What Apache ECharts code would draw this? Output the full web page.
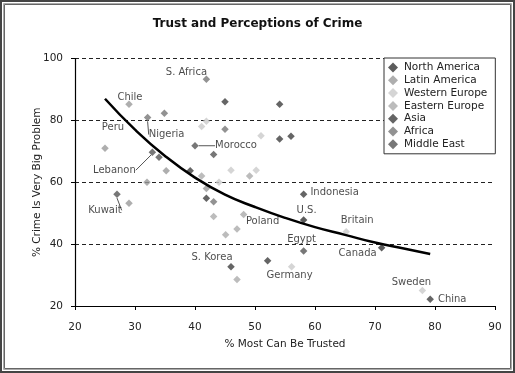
<!DOCTYPE html>
<html><head><meta charset="utf-8">
<script src="https://cdn.jsdelivr.net/npm/echarts@6/dist/echarts.min.js"></script>
<style>html,body{margin:0;padding:0;background:#fff}#c{width:515px;height:373px}</style>
</head><body><div id="c"></div>
<script>
// ---- data (x = % most can be trusted, y = % crime is very big problem, name = label) ----
const northAmerica = [[58.1,47.8,'U.S.'],[71.1,38.8,'Canada']];
const latinAmerica = [[29,85.2,'Chile'],[25,71,'Peru'],[35.2,63.7,''],[32,60,''],[29,53.2,''],[41.9,58,'']];
const westernEurope = [[41.9,79.7,''],[41.1,78,''],[51,75,''],[46,63.9,''],[50.2,63.9,''],[44,60,''],[65.2,44,'Britain'],[56.1,32.7,'Germany'],[77.9,25,'Sweden']];
const easternEurope = [[48.1,49.6,'Poland'],[43.1,48.9,''],[45.1,43,''],[47,44.9,''],[47,28.6,''],[41.1,62,''],[49.1,62,'']];
const asia = [[58.1,56.1,'Indonesia'],[46,32.7,'S. Korea'],[79.2,22.2,'China'],[45,86,''],[54.1,85.2,''],[54.1,74,''],[56,74.9,''],[39.2,63.7,''],[41.9,54.8,''],[52.1,34.6,'']];
const africa = [[41.9,93.3,'S. Africa'],[32.1,80.9,'Nigeria'],[45,77.1,''],[43.1,53.7,''],[34.9,82.3,'']];
const middleEast = [[40,71.8,'Morocco'],[32.9,69.7,'Lebanon'],[34,68.1,''],[43.1,69,''],[27,56.1,'Kuwait'],[58.1,37.8,'Egypt']];
// trend line
const trendX = [25,30,35,40,45,50,55,60,65,70,75,79.2];
const trendY = [87,77,68.5,61.5,56,52,48.5,45.5,43,40.5,38.5,36.8];
const regions = ['North America','Latin America','Western Europe','Eastern Europe','Asia','Africa','Middle East'];
const regionData = [northAmerica,latinAmerica,westernEurope,easternEurope,asia,africa,middleEast];

// ---- styling ----
const colors = ['#333333','#9a9a9a','#cacaca','#ababab','#3f3f3f','#777777','#555555'];
// label offsets in pixels from the point: [dx, dy, leaderLine]
const labelPlace = {
  'S. Africa':[-20,-7,false],'Chile':[1,-7,false],'Peru':[8,-21,false],'Nigeria':[19,17,true],
  'Morocco':[41,0,true],'Lebanon':[-38,18,true],'Kuwait':[-12,16,true],'Indonesia':[31,-2,false],
  'U.S.':[3,-10,false],'Poland':[19,7,false],'Britain':[11,-11,false],'Egypt':[-2,-12,false],
  'Canada':[-24,6,false],'S. Korea':[-19,-9,false],'Germany':[-2,9,false],'Sweden':[-11,-8,false],
  'China':[22,0,false]
};
const FONT = 'DejaVu Sans';
const series = regions.map((r,i)=>({
  name:r, type:'scatter', symbol:'diamond', symbolSize:7.5, z:3,
  itemStyle:{color:colors[i]},
  data: regionData[i].map(d=>{
    const item = {value:[d[0],d[1]], name:d[2]};
    if(d[2]){
      const p = labelPlace[d[2]];
      item.label = {show:true, formatter:'{b}', position:'inside', color:'#1a1a1a', fontFamily:FONT, fontSize:10};
      item.labelLine = {show:p[2], length2:0, smooth:false, lineStyle:{color:'#555', width:1}};
    }
    return item;
  }),
  labelLayout: function(params){
    const p = labelPlace[params.text];
    if(!p) return {};
    return {dx:p[0], dy:p[1]};
  }
}));
series.push({
  type:'line', smooth:true, showSymbol:false, silent:true, z:4,
  lineStyle:{color:'#000', width:2.5},
  data: trendX.map((x,i)=>[x,trendY[i]])
});

const chart = echarts.init(document.getElementById('c'), null, {renderer:'canvas'});
chart.setOption({
  animation:false,
  backgroundColor:'#fff',
  title:{text:'Trust and Perceptions of Crime', left:'center', top:13,
    textStyle:{fontFamily:FONT, fontSize:12, fontWeight:'bold', color:'#111'}},
  grid:{left:75, right:20, top:58.5, bottom:67},
  legend:{orient:'vertical', left:384, top:58, data:regions,
    icon:'diamond', itemWidth:10, itemHeight:10, itemGap:1.8,
    backgroundColor:'#fff', borderColor:'#333', borderWidth:1, padding:[4,8,4,4],
    textStyle:{fontFamily:FONT, fontSize:10.5, color:'#222', padding:[0,0,0,1]}},
  xAxis:{type:'value', min:20, max:90, interval:10,
    name:'% Most Can Be Trusted', nameLocation:'middle', nameGap:33, nameMoveOverlap:false,
    nameTextStyle:{fontFamily:FONT, fontSize:10.5, color:'#222'},
    axisLine:{lineStyle:{color:'#000', width:1.2}},
    axisTick:{show:true, inside:false, length:4, lineStyle:{color:'#000'}},
    axisLabel:{fontFamily:FONT, fontSize:10.5, color:'#222', margin:16},
    splitLine:{show:false}},
  yAxis:{type:'value', min:20, max:100, interval:20,
    name:'% Crime Is Very Big Problem', nameLocation:'middle', nameGap:32, nameMoveOverlap:false,
    nameTextStyle:{fontFamily:FONT, fontSize:10.5, color:'#222'},
    axisLine:{show:true, lineStyle:{color:'#000', width:1.2}},
    axisTick:{show:true, inside:false, length:4, lineStyle:{color:'#000'}},
    axisLabel:{fontFamily:FONT, fontSize:10.5, color:'#222', margin:12},
    splitLine:{show:true, lineStyle:{color:'#222', type:[4,3], width:1}}},
  graphic:[
    {type:'rect', shape:{x:1,y:1,width:513,height:371}, style:{fill:'none', stroke:'#444', lineWidth:2}, silent:true},
    {type:'rect', shape:{x:3.5,y:3.5,width:508,height:366}, style:{fill:'none', stroke:'#aaa', lineWidth:1}, silent:true},
    {type:'rect', shape:{x:4.5,y:4.5,width:506,height:364}, style:{fill:'none', stroke:'#666', lineWidth:1}, silent:true}
  ],
  series: series
});
</script></body></html>
